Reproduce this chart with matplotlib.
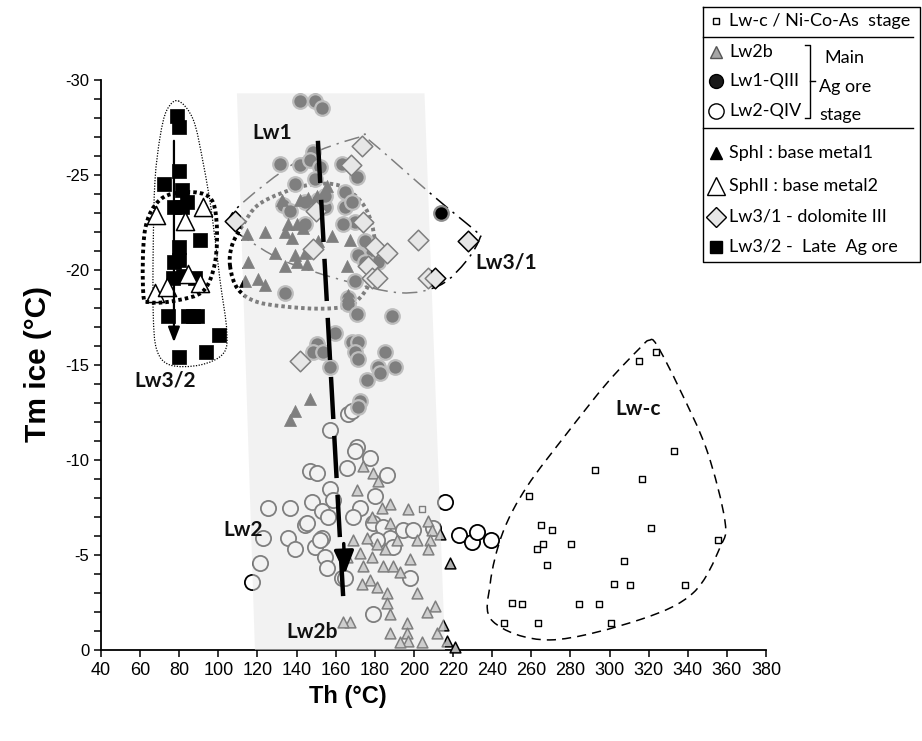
import numpy as np
import matplotlib
matplotlib.use("Agg")
import matplotlib.pyplot as plt
from matplotlib.path import Path
from matplotlib.patches import PathPatch, Polygon
from matplotlib.ticker import MultipleLocator

plt.rcParams["axes.unicode_minus"] = False

# Lw-c / Ni-Co-As stage (small open squares)
lwc_x = [323.7, 315, 333, 292.6, 316.6, 258.8, 265, 270.6, 321.2, 355.4, 266, 280.3, 262.9,
         268, 307.4, 302.3, 310.5, 338.6, 250.1, 255.2, 284.4, 294.6, 246, 263.4, 300.7, 204]
lwc_y = [-15.7, -15.2, -10.5, -9.5, -9.0, -8.1, -6.6, -6.3, -6.4, -5.8, -5.6, -5.6, -5.3,
         -4.5, -4.7, -3.5, -3.4, -3.4, -2.5, -2.4, -2.4, -2.4, -1.4, -1.4, -1.4, -7.4]

# Lw2b (grey triangles)
lw2b_x = [173.9, 179.0, 181.6, 187.7, 183.7, 197.0, 207.2, 209.2, 213.3, 208.2, 207.2, 218.4,
          198.0, 185.2, 181.1, 176.0, 172.4, 178.5, 174.0, 184.2, 189.3, 192.9, 177.5, 181.1,
          186.2, 201.6, 186.2, 187.7, 206.7, 210.8, 167.3, 196.4, 187.7, 196.4, 197.0, 192.9,
          204.1, 211.8, 214.8, 216.9, 221.0, 165.8, 168.8, 187.7, 191.3, 178.5, 201.6, 173.4,
          163.7, 170.9]
lw2b_y = [-9.7, -9.3, -8.9, -7.7, -7.5, -7.4, -6.8, -6.3, -6.1, -5.8, -5.3, -4.6,
          -4.8, -5.3, -5.6, -5.9, -5.1, -4.9, -4.4, -4.4, -4.4, -4.1, -3.7, -3.3,
          -3.0, -3.0, -2.5, -1.9, -2.0, -2.3, -1.5, -1.4, -0.9, -0.9, -0.5, -0.4,
          -0.4, -0.9, -1.3, -0.5, -0.15, -4.9, -5.8, -6.7, -5.8, -7.0, -5.8, -3.5,
          -1.5, -8.4]

# Lw1-QIII (filled circles)
lw1_x = [141.7, 149.4, 153.0, 148.4, 131.5, 141.7, 146.8, 152.0, 163.2, 170.9, 139.2, 149.4,
         164.7, 133.0, 136.6, 144.3, 151.0, 154.5, 164.7, 168.3, 144.3, 169.9, 163.7, 175.0,
         178.5, 171.4, 181.6, 134.0, 169.9, 178.5, 175.0, 166.3, 154.5, 166.3, 170.9, 188.8,
         159.6, 150.4, 148.4, 153.5, 157.1, 168.3, 171.4, 169.9, 171.4, 185.2, 181.6, 182.6,
         190.3, 176.0, 172.4, 171.4, 213.8]
lw1_y = [-28.9, -28.9, -28.5, -26.2, -25.6, -25.5, -25.8, -25.4, -25.6, -24.9, -24.5, -24.8,
         -24.1, -23.4, -23.1, -23.6, -23.7, -23.3, -23.3, -23.6, -22.4, -22.5, -22.4, -21.5,
         -20.9, -20.8, -20.4, -18.8, -19.4, -19.6, -20.4, -18.5, -23.9, -18.2, -17.7, -17.6,
         -16.7, -16.1, -15.7, -15.7, -14.9, -16.2, -16.2, -15.7, -15.3, -15.7, -14.9, -14.6,
         -14.9, -14.2, -13.1, -12.8, -23.0]

# Lw2-QIV (open circles)
lw2_x = [157.1, 166.3, 168.3, 170.9, 177.5, 165.8, 186.2, 146.8, 150.4, 157.1, 125.4, 136.6,
         147.9, 158.6, 153.0, 156.1, 144.3, 122.8, 135.6, 139.2, 149.4, 153.0, 154.5, 155.5,
         121.3, 117.2, 163.2, 169.9, 180.1, 172.4, 168.8, 194.4, 199.5, 209.7, 179.0, 184.2,
         187.7, 181.1, 189.3, 198.0, 164.7, 179.0, 145.3, 152.0, 215.9, 223.0, 229.7, 232.2,
         239.4]
lw2_y = [-11.6, -12.4, -12.6, -10.7, -10.1, -9.6, -9.2, -9.4, -9.3, -8.5, -7.5, -7.5,
         -7.8, -7.9, -7.3, -7.0, -6.6, -5.9, -5.9, -5.3, -5.4, -5.9, -4.9, -4.3,
         -4.6, -3.6, -3.8, -10.5, -8.1, -7.5, -7.0, -6.3, -6.3, -6.4, -6.7, -6.5,
         -5.9, -5.8, -5.4, -3.8, -3.8, -1.9, -6.7, -5.8, -7.8, -6.05, -5.7, -6.2,
         -5.8]

# SphI : base metal1 (filled triangles)
sph1_x = [155.5, 114.6, 123.8, 135.6, 140.2, 134.0, 137.6, 143.3, 145.8, 141.7, 150.4, 132.5,
          158.1, 129.0, 139.2, 144.3, 151.0, 167.3, 115.2, 134.0, 140.2, 145.3, 113.6, 120.3,
          123.8, 165.8, 166.3, 146.8, 139.2, 136.6]
sph1_y = [-24.4, -21.9, -22.0, -22.4, -22.4, -22.0, -21.7, -22.2, -23.8, -23.7, -23.9, -23.7,
          -21.8, -20.9, -20.8, -20.9, -21.5, -21.6, -20.4, -20.2, -20.4, -20.3, -19.4, -19.5,
          -19.2, -20.2, -18.7, -13.2, -12.6, -12.1]

# SphII : base metal2 (open triangles)
sph2_x = [68.1, 83.0, 92.1, 67.6, 73.7, 84.5, 90.6]
sph2_y = [-22.9, -22.6, -23.3, -18.8, -19.1, -19.8, -19.3]

# Lw3/1 - dolomite III (diamonds)
lw31_x = [173.4, 167.8, 149.9, 174.0, 108.5, 148.4, 180.1, 186.2, 176.5, 178.5, 181.0, 202.0,
          207.2, 210.8, 227.6, 141.7]
lw31_y = [-26.5, -25.5, -23.1, -22.5, -22.6, -21.1, -21.2, -20.9, -20.2, -19.6, -19.6, -21.6,
          -19.6, -19.6, -21.5, -15.2]

# Lw3/2 - Late Ag ore (filled squares)
lw32_x = [78.9, 79.9, 72.2, 79.9, 81.4, 84.0, 77.3, 81.4, 90.6, 79.9, 77.3, 79.9, 76.8, 81.9,
          88.1, 74.3, 84.5, 89.1, 100.3, 93.7, 79.9, 86.8]
lw32_y = [-28.1, -27.5, -24.5, -25.2, -24.2, -23.6, -23.3, -23.3, -21.6, -21.2, -20.4, -20.5,
          -19.6, -19.7, -19.6, -17.6, -17.6, -17.6, -16.6, -15.7, -15.4, -17.6]

# outlines of the groups
lwc_env_x = [320.2, 324.2, 336, 349.8, 359, 356.5, 342.7, 315.6, 269.5, 240.4, 239, 245.5,
             257.8, 278.2, 298.7, 315.6]
lwc_env_y = [-16.3, -16.05, -13.7, -10.5, -6.8, -5.4, -3.0, -1.6, -0.53, -1.5, -3.5, -6.2,
             -8.6, -11.4, -14.05, -15.9]
lw32_env_x = [79.5, 87.2, 92.3, 96.6, 100.8, 104.3, 102.5, 90.6, 75.3, 68.5, 66.7, 66.7,
              67.6, 70.2, 73.6]
lw32_env_y = [-28.9, -27.9, -25.6, -23.0, -19.5, -16.8, -15.6, -15.0, -15.0, -15.8, -17.7,
              -21.2, -24.7, -27.0, -28.4]
sph2_env_x = [61.6, 62.5, 70.2, 83.8, 95.7, 99.1, 98.3, 92.3, 78.7, 65]
sph2_env_y = [-18.8, -22.1, -23.7, -24.1, -23.8, -22.5, -20.4, -18.9, -18.4, -18.3]
sph1_env_x = [106, 107, 112.7, 120, 132.4, 147.7, 163, 175, 180, 178, 170, 160, 142.6,
              120.4, 110]
sph1_env_y = [-20.2, -21.3, -22.4, -23.4, -24.05, -24.5, -24.4, -23.3, -21.5, -19.5, -18.3,
              -18.0, -18.0, -18.3, -19.0]
lw31_env_x = [106.8, 109.4, 141.7, 172.4, 177.5, 209.9, 232.1, 233.8, 227, 213.3, 192.9,
              162.2, 133.2, 112.7]
lw31_env_y = [-22.3, -23.25, -25.8, -27.0, -26.8, -23.9, -22.0, -21.7, -20.5, -19.2, -18.8,
              -19.5, -20.5, -21.75]

# grey band (Th range of main stage)
band_x = [109.5, 205.4, 215.9, 118.7]
band_y = [-29.3, -29.3, 0, 0]

# trend arrows
main_arrow = [(150.9, -26.8), (164.7, -4.0)]
late_arrow = [(77.3, -26.8), (77.3, -16.2)]


def smooth_closed(xs, ys):
    pts = np.column_stack([xs, ys])
    n = len(pts)
    verts = [pts[0]]
    codes = [Path.MOVETO]
    for i in range(n):
        p0, p1, p2, p3 = pts[i - 1], pts[i], pts[(i + 1) % n], pts[(i + 2) % n]
        verts += [p1 + (p2 - p0) / 6, p2 - (p3 - p1) / 6, p2]
        codes += [Path.CURVE4] * 3
    return Path(verts, codes)


fig = plt.figure(figsize=(9.22, 7.41), dpi=100)
ax = fig.add_axes([101 / 922, 91 / 741, 665 / 922, 570 / 741])

# enclosures
ax.add_patch(PathPatch(smooth_closed(lwc_env_x, lwc_env_y), fill=False, ec="k", lw=1.1,
                       ls=(0, (6, 4)), zorder=2))
ax.add_patch(PathPatch(smooth_closed(lw32_env_x, lw32_env_y), fill=False, ec="k", lw=0.9,
                       ls=(0, (1, 1.2)), zorder=2))
ax.add_patch(PathPatch(smooth_closed(sph2_env_x, sph2_env_y), fill=False, ec="k", lw=2.8,
                       ls=(0, (0.9, 0.8)), zorder=4))
ax.add_patch(PathPatch(smooth_closed(sph1_env_x, sph1_env_y), fill=False, ec="k", lw=2.8,
                       ls=(0, (0.9, 0.8)), zorder=2))
ax.add_patch(PathPatch(smooth_closed(lw31_env_x, lw31_env_y), fill=False, ec="k", lw=1.1,
                       ls=(0, (10, 4, 1.5, 4)), zorder=2))

# data
ax.scatter(lwc_x, lwc_y, marker="s", s=22, facecolor="white", edgecolor="k", lw=1.0, zorder=3)
ax.scatter(lw2_x, lw2_y, marker="o", s=120, facecolor="white", edgecolor="k", lw=1.3, zorder=3)
ax.scatter(lw1_x, lw1_y, marker="o", s=110, facecolor="k", edgecolor="#8c8c8c", lw=1.6, zorder=3)
ax.scatter(lw2b_x, lw2b_y, marker="^", s=60, facecolor="#b0b0b0", edgecolor="k", lw=1.1,
           zorder=3.2, clip_on=False)
ax.scatter(sph1_x, sph1_y, marker="^", s=75, facecolor="k", edgecolor="k", lw=0.5, zorder=3.3)
ax.scatter(lw31_x, lw31_y, marker="D", s=110, facecolor="#e6e6e6", edgecolor="k", lw=1.1,
           zorder=3.4)
ax.scatter(lw32_x, lw32_y, marker="s", s=95, facecolor="k", edgecolor="k", lw=0.5, zorder=3.5)
ax.scatter(sph2_x, sph2_y, marker="^", s=170, facecolor="white", edgecolor="k", lw=1.1,
           zorder=3.6)

# translucent band over the points
ax.add_patch(Polygon(list(zip(band_x, band_y)), closed=True, facecolor="#e8e8e8", alpha=0.55,
                     edgecolor="none", zorder=5))

# arrows
(x0, y0), (x1, y1) = main_arrow
ax.plot([x0, x1 - (x1 - x0) * 0.06], [y0, y1 + 1.3], color="k", lw=3.2,
        ls=(0, (9.5, 3.8)), solid_capstyle="butt", dash_capstyle="butt", zorder=6)
ax.annotate("", xy=(x1, y1), xytext=(x1 - 0.6, y1 - 1.6),
            arrowprops=dict(arrowstyle="-|>,head_length=1.4,head_width=0.6", color="k",
                            lw=2.5, shrinkA=0, shrinkB=0), zorder=6)
(x0, y0), (x1, y1) = late_arrow
ax.annotate("", xy=(x1, y1), xytext=(x0, y0),
            arrowprops=dict(arrowstyle="-|>,head_length=0.9,head_width=0.35", color="k",
                            lw=1.6, shrinkA=0, shrinkB=0), zorder=6)

# group labels
lab_font = dict(family="Lato", fontweight="bold", fontsize=15, color="#111111", zorder=7)
ax.text(127.4, -27.2, "Lw1", ha="center", va="center", **lab_font)
ax.text(231.5, -20.4, "Lw3/1", ha="left", va="center", **lab_font)
ax.text(72.7, -14.2, "Lw3/2", ha="center", va="center", **lab_font)
ax.text(314.5, -12.7, "Lw-c", ha="center", va="center", **lab_font)
ax.text(112.6, -6.3, "Lw2", ha="center", va="center", **lab_font)
ax.text(147.9, -0.95, "Lw2b", ha="center", va="center", **lab_font)

# axes styling
ax.set_xlim(40, 380)
ax.set_ylim(0, -30)
ax.set_xticks(range(40, 381, 20))
ax.set_yticks(range(-30, 1, 5))
ax.yaxis.set_minor_locator(MultipleLocator(1))
for s in ["top", "right"]:
    ax.spines[s].set_visible(False)
for s in ["left", "bottom"]:
    ax.spines[s].set_linewidth(1.3)
ax.tick_params(which="both", direction="out", length=5, width=1.1)
for lbl in ax.get_xticklabels():
    lbl.set_family(["Liberation Sans Narrow", "Liberation Sans"])
    lbl.set_fontsize(13)
for lbl in ax.get_yticklabels():
    lbl.set_family("Liberation Sans")
    lbl.set_fontsize(12)

fig.text(38 / 922, 1 - 364 / 741, "Tm ice (°C)", rotation=90, ha="center", va="center",
         family="Liberation Sans", fontweight="bold", fontsize=21.5)
fig.text(348 / 922, 1 - 697 / 741, "Th (°C)", ha="center", va="center",
         family=["Liberation Sans Narrow", "Liberation Sans"], fontweight="bold", fontsize=17)

# legend box drawn in pixel coordinates
lax = fig.add_axes([0, 0, 1, 1], zorder=10)
lax.set_xlim(0, 922)
lax.set_ylim(741, 0)
lax.axis("off")
lax.patch.set_alpha(0)
lax.plot([703, 920, 920, 703, 703], [7, 7, 262, 262, 7], color="k", lw=1.0)
lax.plot([703, 913], [37, 37], color="k", lw=1.0)
lax.plot([703, 913], [128, 128], color="k", lw=1.0)
leg_font = dict(family="Lato", fontsize=13, va="center", ha="left")
mx, tx = 716, 729
lax.plot(mx, 21, marker="s", ms=5, mfc="white", mec="k", mew=1.0)
lax.text(tx, 21, "Lw-c / Ni-Co-As  stage", **leg_font)
lax.plot(mx, 52, marker="^", ms=8, mfc="#a6a6a6", mec="#555555", mew=1.0)
lax.text(tx, 52, "Lw2b", **leg_font)
lax.plot(mx, 81, marker="o", ms=10, mfc="#1a1a1a", mec="k", mew=1.0)
lax.text(tx, 81, "Lw1-QIII", **leg_font)
lax.plot(mx, 111, marker="o", ms=11, mfc="white", mec="k", mew=1.0)
lax.text(tx, 111, "Lw2-QIV", **leg_font)
lax.plot([805, 810, 810, 805], [45, 45, 118, 118], color="k", lw=1.0)
lax.plot([810, 815], [81, 81], color="k", lw=1.0)
lax.text(824, 58, "Main", **leg_font)
lax.text(819, 87, "Ag ore", **leg_font)
lax.text(819, 115, "stage", **leg_font)
lax.plot(mx, 153, marker="^", ms=9, mfc="k", mec="k")
lax.text(tx, 153, "SphI : base metal1", **leg_font)
lax.plot(mx, 186, marker="^", ms=13, mfc="white", mec="k", mew=1.0)
lax.text(tx, 186, "SphII : base metal2", **leg_font)
lax.plot(mx, 217, marker="D", ms=10, mfc="#e6e6e6", mec="k", mew=1.0)
lax.text(tx, 217, "Lw3/1 - dolomite III", **leg_font)
lax.plot(mx, 247, marker="s", ms=8, mfc="k", mec="k")
lax.text(tx, 247, "Lw3/2 -  Late  Ag ore", **leg_font)

fig.savefig("out.png", dpi=100)
